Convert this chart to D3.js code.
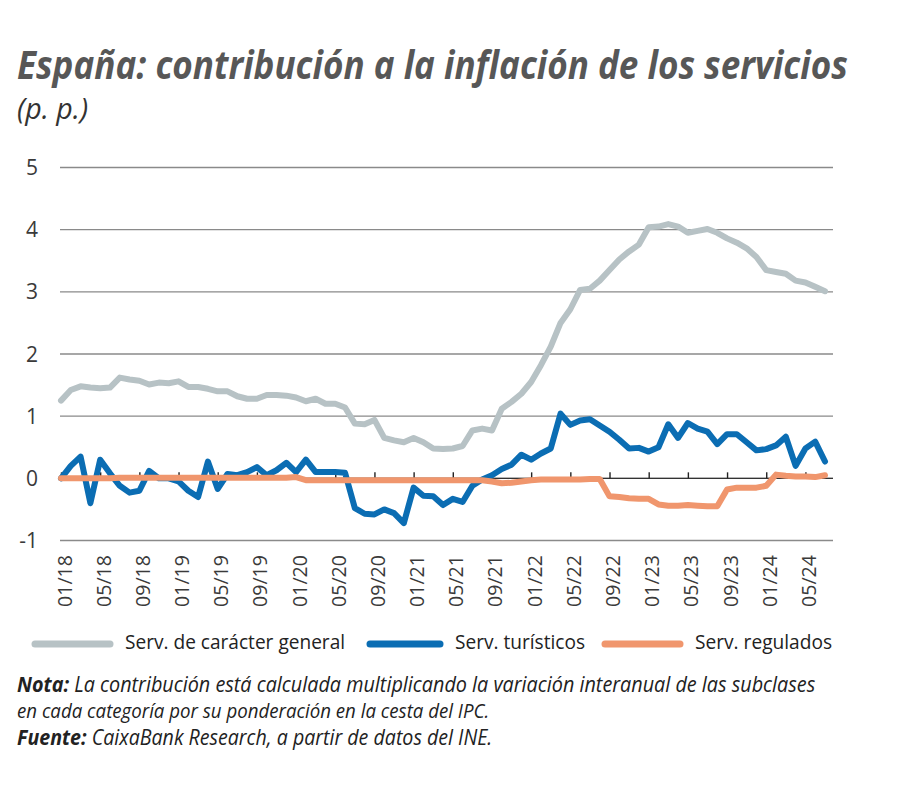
<!DOCTYPE html>
<html><head><meta charset="utf-8">
<script src="https://cdn.jsdelivr.net/npm/d3@7"></script>
<style>body{margin:0;background:#fff} svg{display:block} text{font-family:"Open Sans","Noto Sans",sans-serif}</style>
</head><body><svg id="c" width="900" height="795"></svg>
<script>
// ---- DATA ----
const months = [];
for (let y = 18; y <= 24; y++) for (let m = 1; m <= 12; m++) {
  if (y === 24 && m > 7) break;
  months.push(String(m).padStart(2, "0") + "/" + y);
}
const general = [1.25,1.42,1.48,1.46,1.45,1.46,1.62,1.59,1.57,1.51,1.54,1.53,
  1.56,1.47,1.47,1.44,1.40,1.40,1.32,1.28,1.28,1.34,1.34,1.33,
  1.30,1.24,1.28,1.20,1.20,1.14,0.88,0.87,0.94,0.65,0.61,0.58,
  0.65,0.58,0.48,0.47,0.48,0.52,0.77,0.80,0.77,1.12,1.23,1.36,
  1.55,1.82,2.12,2.50,2.72,3.03,3.05,3.18,3.35,3.52,3.65,3.76,
  4.04,4.05,4.09,4.05,3.95,3.98,4.01,3.95,3.86,3.79,3.70,3.56,
  3.35,3.32,3.29,3.18,3.15,3.08,3.01];
const turisticos = [0.00,0.20,0.35,-0.40,0.30,0.08,-0.12,-0.23,-0.20,0.12,0.00,0.00,
  -0.05,-0.20,-0.30,0.27,-0.17,0.07,0.05,0.10,0.18,0.05,0.13,0.25,
  0.10,0.30,0.10,0.10,0.10,0.09,-0.48,-0.57,-0.58,-0.50,-0.56,-0.72,
  -0.15,-0.28,-0.29,-0.43,-0.33,-0.38,-0.12,-0.02,0.05,0.15,0.22,0.38,
  0.30,0.40,0.48,1.04,0.86,0.93,0.95,0.85,0.75,0.62,0.48,0.49,
  0.43,0.50,0.87,0.65,0.89,0.80,0.75,0.55,0.71,0.71,0.58,0.45,
  0.47,0.53,0.67,0.20,0.48,0.59,0.27];
const regulados = [0.00,0.00,0.00,0.00,0.00,0.00,0.01,0.01,0.01,0.01,0.01,0.01,
  0.01,0.01,0.01,0.01,0.01,0.01,0.01,0.01,0.01,0.01,0.01,0.01,
  0.02,-0.03,-0.03,-0.03,-0.03,-0.03,-0.03,-0.03,-0.03,-0.03,-0.03,-0.03,
  -0.03,-0.03,-0.03,-0.03,-0.03,-0.03,-0.03,-0.03,-0.05,-0.08,-0.07,-0.05,
  -0.03,-0.02,-0.02,-0.02,-0.02,-0.02,-0.01,-0.01,-0.29,-0.30,-0.32,-0.33,
  -0.33,-0.42,-0.44,-0.44,-0.43,-0.44,-0.45,-0.45,-0.18,-0.15,-0.15,-0.15,
  -0.12,0.06,0.04,0.03,0.03,0.02,0.05];
const yTicks = [-1,0,1,2,3,4,5];
const xTickLabels = ["01/18","05/18","09/18","01/19","05/19","09/19","01/20","05/20","09/20",
  "01/21","05/21","09/21","01/22","05/22","09/22","01/23","05/23","09/23","01/24","05/24"];
const seriesNames = ["Serv. de carácter general","Serv. turísticos","Serv. regulados"];
const seriesColors = ["#b7c2c5","#0b6db3","#f0966d"];

// ---- CHART ----
const svg = d3.select("#c");
const x = d3.scalePoint().domain(months).range([61, 825]);
const y = d3.scaleLinear().domain([-1, 5]).range([540.5, 167.5]);

function fit(sel, w) {
  const L = sel.node().getComputedTextLength();
  const fs = parseFloat(sel.attr("font-size"));
  sel.attr("font-size", (fs * w / L).toFixed(2));
}
function placed(xx, yy, sy) {
  return svg.append("text").attr("transform", `translate(${xx},${yy}) scale(1,${sy})`);
}

// title
const t = placed(17, 79, 1.12).attr("font-size", 31)
  .attr("font-weight", 700).attr("font-style", "italic").attr("fill", "#575757")
  .text("España: contribución a la inflación de los servicios");
fit(t, 831);
const st = placed(17, 119, 1.05).attr("font-size", 24)
  .attr("font-style", "italic").attr("fill", "#333").text("(p. p.)");
fit(st, 71);

// gridlines
svg.append("g").selectAll("line").data(yTicks).join("line")
  .attr("x1", 60).attr("x2", 833).attr("y1", d => y(d)).attr("y2", d => y(d))
  .attr("stroke", "#8a8a8a").attr("stroke-width", 1.3);

// y labels
svg.append("g").selectAll("text").data(yTicks).join("text")
  .attr("x", 38).attr("y", d => y(d)).attr("dy", "0.36em").attr("text-anchor", "end")
  .attr("font-size", 21).attr("fill", "#3a3a3a").text(d => d);

// zero axis with ticks
const ax = svg.append("g").attr("transform", `translate(0,${y(0)})`)
  .call(d3.axisTop(x).tickValues(xTickLabels).tickSize(6).tickFormat(""));
ax.select(".domain").attr("d", `M60,0H833`).attr("stroke", "#333").attr("stroke-width", 1.4);
ax.selectAll(".tick line").attr("stroke", "#222").attr("stroke-width", 1.4);

// x labels
svg.append("g").selectAll("text").data(xTickLabels).join("text")
  .attr("transform", d => `translate(${x(d) + 10.5},555) rotate(-90)`)
  .attr("text-anchor", "end").attr("font-size", 19).attr("fill", "#3a3a3a").text(d => d)
  .each(function () { fit(d3.select(this), 52); });

// lines
const line = d3.line().x((d, i) => x(months[i])).y(d => y(d));
[general, turisticos, regulados].forEach((s, k) => {
  svg.append("path").datum(s).attr("d", line).attr("fill", "none")
    .attr("stroke", seriesColors[k]).attr("stroke-width", 6)
    .attr("stroke-linejoin", "round").attr("stroke-linecap", "round");
});

// legend
const legX = [[35,110,125,220],[370,440,455,130],[605,680,695,137]];
seriesNames.forEach((n, k) => {
  const [a, b, tx, tw] = legX[k];
  svg.append("line").attr("x1", a).attr("x2", b).attr("y1", 644).attr("y2", 644)
    .attr("stroke", seriesColors[k]).attr("stroke-width", 7).attr("stroke-linecap", "round");
  const lt = placed(tx, 649, 1.08).attr("font-size", 18).attr("fill", "#222").text(n);
  fit(lt, tw);
});

// notes
function note(yy, bold, rest, w) {
  const tt = placed(17, yy, 1.1).attr("font-size", 17)
    .attr("font-style", "italic").attr("fill", "#222");
  if (bold) tt.append("tspan").attr("font-weight", 700).text(bold);
  tt.append("tspan").text(rest);
  fit(tt, w);
}
note(692, "Nota:", " La contribución está calculada multiplicando la variación interanual de las subclases", 798);
note(718, null, "en cada categoría por su ponderación en la cesta del IPC.", 472);
note(745, "Fuente:", " CaixaBank Research, a partir de datos del INE.", 475);
</script></body></html>
